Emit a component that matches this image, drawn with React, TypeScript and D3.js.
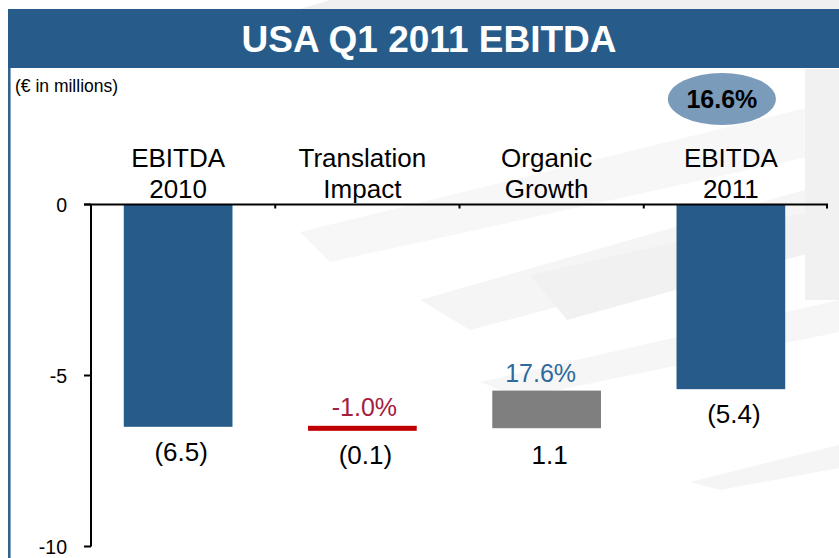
import React from "react";
import * as d3 from "d3";

const categories = ["EBITDA 2010", "Translation Impact", "Organic Growth", "EBITDA 2011"];
const labelLines = [["EBITDA", "2010"], ["Translation", "Impact"], ["Organic", "Growth"], ["EBITDA", "2011"]];
const values = [-6.5, -0.1, 1.1, -5.4];
const kinds = ["total", "delta", "delta", "total"];
const valueLabels = ["(6.5)", "(0.1)", "1.1", "(5.4)"];
const pctLabels = ["", "-1.0%", "17.6%", ""];
const yTicks = [0, -5, -10];
const title = "USA Q1 2011 EBITDA";
const unitLabel = "(€ in millions)";
const marginLabel = "16.6%";

const W = 839;
const H = 558;
const FONT = "'Liberation Sans', Arial, Helvetica, sans-serif";
const BLUE = "#275c8a";

export default function App() {
  const x = d3.scaleBand<string>().domain(categories).range([91, 828]).padding(0);
  const y = d3.scaleLinear().domain([-10, 0]).range([546.5, 204.5]);
  const bw = x.bandwidth();
  const barW = bw * 0.59;

  let running = 0;
  const bars = categories.map((c, i) => {
    let start: number, end: number;
    if (kinds[i] === "total") {
      start = 0;
      end = values[i];
    } else {
      start = running;
      end = running + values[i];
    }
    running = end;
    const cx = (x(c) as number) + bw / 2;
    return { c, i, start, end, cx };
  });

  // faint swoosh background polygons
  const swooshes: [string, string][] = [
    ["#f0f0f0", "330,0 839,0 839,9 300,9"],
    ["#f7f7f7", "300,232 839,100 839,150 330,262"],
    ["#f5f5f5", "420,300 839,180 839,232 470,330"],
    ["#f1f1f1", "530,275 839,205 839,245 567,320"],
    ["#f6f6f6", "480,382 839,300 839,332 520,398"],
    ["#f5f5f5", "690,482 839,445 839,468 720,490"],
    ["#f1f1f1", "805,69 839,69 839,300 805,300"],
  ];

  return (
    <svg
      width={W}
      height={H}
      style={{ position: "absolute", left: 0, top: 0, background: "#ffffff" }}
      fontFamily={FONT}
    >
      <rect x={0} y={0} width={W} height={H} fill="#ffffff" />
      {swooshes.map(([fill, pts], k) => (
        <polygon key={k} points={pts} fill={fill} />
      ))}
      {/* title bar */}
      <rect x={8} y={9} width={W - 8} height={59} fill={BLUE} />
      <text x={429} y={52} textAnchor="middle" fill="#ffffff" fontWeight="bold" fontSize={37}>
        {title}
      </text>
      <line x1={9.3} y1={68} x2={9.3} y2={H} stroke="#2a5f8f" strokeWidth={2.5} />
      <text x={15} y={92} fontSize={17.5} fill="#000">
        {unitLabel}
      </text>

      {/* margin ellipse */}
      <ellipse cx={x(categories[3])! + bw / 2 - 14} cy={99} rx={54} ry={26} fill="#7a9bb9" />
      <text
        x={x(categories[3])! + bw / 2 - 14}
        y={108}
        textAnchor="middle"
        fontWeight="bold"
        fontSize={25}
        fill="#000"
      >
        {marginLabel}
      </text>

      {/* category labels */}
      {categories.map((c, i) => (
        <text key={c} textAnchor="middle" fontSize={26} fill="#000">
          {labelLines[i].map((ln, k) => (
            <tspan key={k} x={(x(c) as number) + bw / 2 - 5} y={167 + k * 31}>
              {ln}
            </tspan>
          ))}
        </text>
      ))}

      {/* bars */}
      {bars.map((b) => {
        const top = Math.min(y(b.start), y(b.end));
        const bottom = Math.max(y(b.start), y(b.end));
        const bx = b.cx - 5 - barW / 2;
        if (b.i === 1) {
          return (
            <rect key={b.c} x={bx} y={top - 1} width={barW} height={Math.max(bottom - top, 5)} fill="#c00000" />
          );
        }
        return (
          <rect
            key={b.c}
            x={bx}
            y={top - (kinds[b.i] === "delta" ? 2 : 0)}
            width={barW}
            height={bottom - top}
            fill={kinds[b.i] === "total" ? BLUE : "#7f7f7f"}
          />
        );
      })}

      {/* value labels */}
      {bars.map((b) => {
        const bottom = Math.max(y(b.start), y(b.end));
        return (
          <text key={b.c} x={b.cx - 2} y={bottom + 34} textAnchor="middle" fontSize={26} fill="#000">
            {valueLabels[b.i]}
          </text>
        );
      })}
      {bars.map((b) =>
        pctLabels[b.i] ? (
          <text
            key={b.c}
            x={b.cx - (b.i === 1 ? 3 : 11)}
            y={Math.min(y(b.start), y(b.end)) - 11}
            textAnchor="middle"
            fontSize={25}
            fill={b.i === 1 ? "#a3203f" : "#2f6a9e"}
          >
            {pctLabels[b.i]}
          </text>
        ) : null
      )}

      {/* axes */}
      <line x1={91} y1={y(-10)} x2={91} y2={y(0)} stroke="#000" strokeWidth={2} />
      <line x1={84} y1={y(0)} x2={828} y2={y(0)} stroke="#000" strokeWidth={2} />
      {yTicks.map((t) => (
        <g key={t}>
          <line x1={84} y1={y(t)} x2={91} y2={y(t)} stroke="#000" strokeWidth={2} />
          <text x={67} y={y(t) + 7} textAnchor="end" fontSize={19.5} fill="#000">
            {t}
          </text>
        </g>
      ))}
      {categories.slice(1).map((c) => (
        <line key={c} x1={x(c)} y1={y(0)} x2={x(c)} y2={y(0) + 4} stroke="#000" strokeWidth={2} />
      ))}
      <line x1={827} y1={y(0)} x2={827} y2={y(0) + 4} stroke="#000" strokeWidth={2} />
    </svg>
  );
}
